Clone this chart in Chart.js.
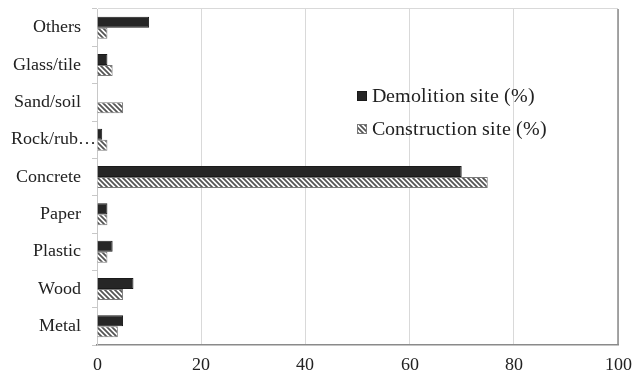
<!DOCTYPE html>
<html>
<head>
<meta charset="utf-8">
<script src="https://cdn.jsdelivr.net/npm/chart.js@4/dist/chart.umd.min.js"></script>
<style>
  @font-face {
    font-family: 'ChartSerif';
    src: local('Liberation Serif'), local('LiberationSerif'), local('LiberationSerif-Regular');
  }
  html, body { margin: 0; padding: 0; background: #ffffff; }
  #wrap { width: 633px; height: 377px; position: relative; }
  #warm { position: absolute; left: -9999px; top: 0; font-family: 'ChartSerif', 'Liberation Serif'; font-size: 18px; }
</style>
</head>
<body>
<span id="warm">0</span>
<div id="wrap"><canvas id="c" width="633" height="377"></canvas></div>
<script>
// Waste composition by material type
const categories = ['Others', 'Glass/tile', 'Sand/soil', 'Rock/rub\u2026', 'Concrete', 'Paper', 'Plastic', 'Wood', 'Metal'];
const demolition = [10, 2, 0, 1, 70, 2, 3, 7, 5];
const construction = [2, 3, 5, 2, 75, 2, 2, 5, 4];
const seriesNames = ['Demolition site (%)', 'Construction site (%)'];
const xTicks = [0, 20, 40, 60, 80, 100];

let FONT = "'Liberation Serif'";

// Diagonal hatch fill for the construction series
function makeHatch() {
  const s = 5;
  const p = document.createElement('canvas');
  p.width = s; p.height = s;
  const g = p.getContext('2d');
  g.fillStyle = '#ffffff';
  g.fillRect(0, 0, s, s);
  g.strokeStyle = '#555555';
  g.lineWidth = 1.8;
  g.beginPath();
  for (let k = -1; k <= 1; k++) {
    g.moveTo(k * s - 1, -1);
    g.lineTo(k * s + s + 1, s + 1);
  }
  g.stroke();
  return g.createPattern(p, 'repeat');
}

// The truncated category name runs on towards the axis line
const truncatedLabelShift = {
  id: 'truncatedLabelShift',
  beforeDraw(chart) {
    const items = chart.scales.y.getLabelItems();
    items.forEach(it => {
      if (String(it.label).endsWith('\u2026')) it.options.translation[0] += 15;
    });
  }
};

// Legend drawn inside the plot area
const innerLegend = {
  id: 'innerLegend',
  afterDraw(chart) {
    const ctx = chart.ctx;
    const x0 = 357, y0 = 96, gap = 33, box = 10;
    ctx.save();
    ctx.font = '20px ' + FONT;
    ctx.textBaseline = 'middle';
    ctx.textAlign = 'left';
    chart.data.datasets.forEach((ds, i) => {
      const y = y0 + i * gap;
      ctx.fillStyle = ds.backgroundColor;
      ctx.fillRect(x0, y - box / 2, box, box);
      ctx.strokeStyle = ds.borderColor;
      ctx.lineWidth = 1;
      ctx.strokeRect(x0 + 0.5, y - box / 2 + 0.5, box - 1, box - 1);
      ctx.fillStyle = '#222222';
      ctx.fillText(ds.label, x0 + 15, y + 1);
    });
    ctx.restore();
  }
};

// Right frame edge of the plot area
const frameEdge = {
  id: 'frameEdge',
  afterDatasetsDraw(chart) {
    const a = chart.chartArea;
    const ctx = chart.ctx;
    ctx.save();
    ctx.strokeStyle = '#8a8a8a';
    ctx.lineWidth = 1.5;
    ctx.beginPath();
    ctx.moveTo(a.right, a.top);
    ctx.lineTo(a.right, a.bottom);
    ctx.stroke();
    ctx.restore();
  }
};

function draw() {
  const hatch = makeHatch();
  new Chart(document.getElementById('c'), {
    type: 'bar',
    data: {
      labels: categories,
      datasets: [
        {
          label: seriesNames[0],
          data: demolition,
          backgroundColor: '#262626',
          borderColor: '#1a1a1a',
          borderWidth: 1
        },
        {
          label: seriesNames[1],
          data: construction,
          backgroundColor: hatch,
          borderColor: '#7a7a7a',
          borderWidth: 1
        }
      ]
    },
    options: {
      indexAxis: 'y',
      responsive: false,
      animation: false,
      devicePixelRatio: 1,
      layout: { padding: { top: 9, right: 15, left: 0, bottom: 0 } },
      datasets: {
        bar: { barPercentage: 1.0, categoryPercentage: 0.59 }
      },
      plugins: {
        legend: { display: false },
        tooltip: { enabled: false }
      },
      scales: {
        x: {
          type: 'linear',
          min: xTicks[0],
          max: xTicks[xTicks.length - 1],
          afterBuildTicks: s => { s.ticks = xTicks.map(v => ({ value: v })); },
          afterFit: s => { s.height = 32; s.paddingLeft = 0; s.paddingRight = 0; },
          grid: {
            color: '#d9d9d9',
            lineWidth: 1,
            drawTicks: false
          },
          border: { display: true, color: '#8a8a8a', width: 1.5 },
          ticks: {
            padding: 9,
            color: '#222222',
            font: { family: FONT, size: 18 }
          }
        },
        y: {
          type: 'category',
          afterFit: s => { s.width = 97; s.paddingTop = 0; s.paddingBottom = 0; },
          grid: {
            offset: true,
            drawOnChartArea: true,
            color: ctx => (ctx.index === 0 ? '#d9d9d9' : 'rgba(0,0,0,0)'),
            tickColor: '#c8c8c8',
            tickLength: 5
          },
          border: { display: true, color: '#c8c8c8', width: 1 },
          ticks: {
            padding: 11,
            color: '#222222',
            font: { family: FONT, size: 18 }
          }
        }
      }
    },
    plugins: [truncatedLabelShift, innerLegend, frameEdge]
  });
}

// Load the serif face before drawing on the canvas
document.body.offsetWidth;
document.fonts.load("18px 'ChartSerif'").then(faces => {
  if (faces && faces.length) FONT = "'ChartSerif'";
  draw();
}, draw);
</script>
</body>
</html>
